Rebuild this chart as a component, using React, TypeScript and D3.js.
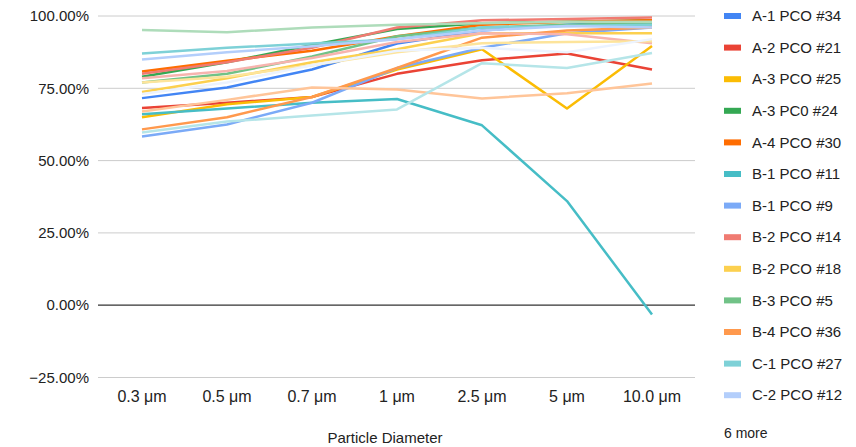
import React from "react";
import * as d3 from "d3";

const categories = ["0.3 μm", "0.5 μm", "0.7 μm", "1 μm", "2.5 μm", "5 μm", "10.0 μm"];

const seriesNames = [
  "A-1 PCO #34",
  "A-2 PCO #21",
  "A-3 PCO #25",
  "A-3  PC0 #24",
  "A-4 PCO #30",
  "B-1 PCO #11",
  "B-1 PCO #9",
  "B-2 PCO #14",
  "B-2 PCO #18",
  "B-3 PCO #5",
  "B-4 PCO #36",
  "C-1 PCO #27",
  "C-2 PCO #12",
  "C-2 PCO #15",
  "C-3 PCO #7",
  "C-3 PCO #2",
  "C-4 PCO #19",
  "D-1 PCO #3",
  "D-2 PCO #8",
];

// Filtration efficiency (%) per particle size, one array per sensor
const a1_34 = [71.6, 75.3, 81.5, 90.5, 95, 97, 98];
const a2_21 = [68.2, 70, 72, 80, 84.7, 87, 81.5];
const a3_25 = [65, 69.5, 72, 81.5, 88.5, 68, 89.6];
const a3_24 = [79, 84, 90, 95.5, 97.5, 98, 98.5];
const a4_30 = [80.8, 84.5, 88, 93, 97, 98, 98.5];
const b1_11 = [66, 68, 70, 71.3, 62.2, 36, -3.2];
const b1_9 = [58.3, 62.5, 70, 82, 89, 94, 96];
const b2_14 = [80, 84, 89, 96, 98.5, 99, 99.5];
const b2_18 = [73.7, 78.5, 84, 88.5, 94, 94, 94];
const b3_5 = [77, 80, 86, 93, 96, 97, 97.5];
const b4_36 = [60.8, 65, 72, 82, 92.5, 95, 96];
const c1_27 = [87, 89, 90.5, 92, 96, 96.5, 97];
const c2_12 = [85, 87.5, 89.5, 92, 95, 96.5, 96];
const s14 = [78.5, 81, 85.5, 91, 94, 93.7, 90.6];
const s15 = [77, 79, 83, 87.5, 90.6, 91, 91.3];
const s16 = [95.2, 94.4, 96, 97, 97.5, 98, 98];
const s17 = [67, 71, 75.3, 74.6, 71.5, 73.3, 76.7];
const s18 = [59.7, 63.5, 65.6, 67.7, 83.7, 82, 87.2];
const s19 = [73, 77, 83, 88, 89, 87.5, 92];

const seriesValues = [
  a1_34, a2_21, a3_25, a3_24, a4_30, b1_11, b1_9, b2_14, b2_18, b3_5,
  b4_36, c1_27, c2_12, s14, s15, s16, s17, s18, s19,
];

const colors = [
  "#4285f4", "#ea4335", "#fbbc04", "#34a853", "#ff6d01", "#46bdc6", "#7baaf7",
  "#f07b72", "#fcd04f", "#71c287", "#ff994d", "#7ed1d7", "#b3cefb", "#f7b4ae",
  "#fde49b", "#aedcba", "#ffc599", "#b5e5e8", "#ecf3fe",
];

const yTicks = [-25, 0, 25, 50, 75, 100];
const legendShown = 13;
const moreLabel = "6 more";
const xTitle = "Particle Diameter";

const W = 856;
const H = 447;
const FONT = "'Liberation Sans', Arial, sans-serif";

export default function App() {
  const x = d3.scalePoint<string>().domain(categories).range([142, 652]);
  const y = d3.scaleLinear().domain([-25, 100]).range([377.5, 16]);
  const line = d3
    .line<number>()
    .x((_, i) => x(categories[i]) as number)
    .y((d) => y(d));

  return (
    <div style={{ position: "absolute", left: 0, top: 0 }}>
      <svg width={W} height={H} style={{ display: "block", background: "#fff" }}>
        {yTicks.map((t) => (
          <g key={t}>
            <line
              x1={98}
              x2={695}
              y1={y(t)}
              y2={y(t)}
              stroke={t === 0 ? "#333" : "#ccc"}
              strokeWidth={t === 0 ? 1.3 : 1}
            />
            <text
              x={89}
              y={y(t)}
              dy="0.35em"
              textAnchor="end"
              fontFamily={FONT}
              fontSize={15}
              fill="#222"
            >
              {d3.format(".2f")(t) + "%"}
            </text>
          </g>
        ))}
        {categories.map((c) => (
          <text
            key={c}
            x={x(c) as number}
            y={396}
            dy="0.35em"
            textAnchor="middle"
            fontFamily={FONT}
            fontSize={16}
            fill="#222"
          >
            {c}
          </text>
        ))}
        <text
          x={385}
          y={438}
          dy="0.35em"
          textAnchor="middle"
          fontFamily={FONT}
          fontSize={15}
          fill="#222"
        >
          {xTitle}
        </text>
        {seriesValues.map((vals, i) => (
          <path
            key={i}
            d={line(vals) || ""}
            fill="none"
            stroke={colors[i]}
            strokeWidth={2.5}
            strokeLinejoin="round"
          />
        ))}
        {seriesNames.slice(0, legendShown).map((n, i) => {
          const cy = 16 + i * 31.6;
          return (
            <g key={n}>
              <rect x={724} y={cy - 3} width={17} height={6} fill={colors[i]} />
              <text
                x={752}
                y={cy}
                dy="0.35em"
                fontFamily={FONT}
                fontSize={15}
                fill="#222"
              >
                {n}
              </text>
            </g>
          );
        })}
        <text x={724} y={433} dy="0.35em" fontFamily={FONT} fontSize={14} fill="#222">
          {moreLabel}
        </text>
      </svg>
    </div>
  );
}
